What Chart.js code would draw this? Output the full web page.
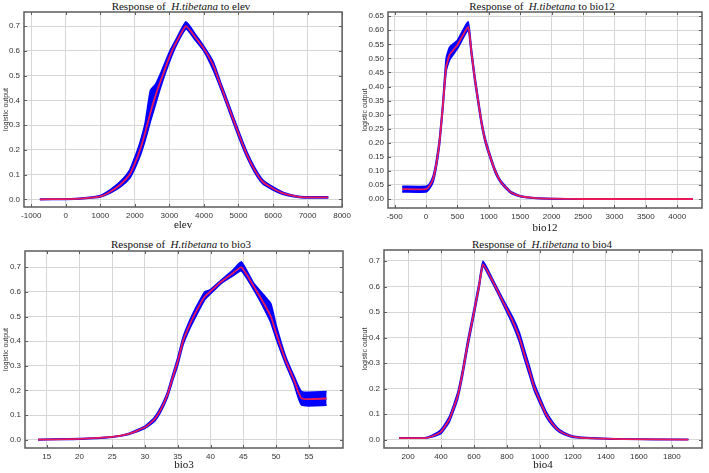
<!DOCTYPE html>
<html lang="en">
<head>
<meta charset="UTF-8">
<title>Response curves of H.tibetana</title>
<script src="https://cdn.jsdelivr.net/npm/chart.js"></script>
<style>
  html, body { margin: 0; padding: 0; background: #fff; width: 709px; height: 473px; overflow: hidden; }
  .panel { position: absolute; }
  .ttl { position: absolute; width: 320px; text-align: center; white-space: nowrap;
         font-family: "Liberation Serif", "DejaVu Serif", serif; font-size: 11px; line-height: 12px; color: #111; }
</style>
</head>
<body>

<div class="ttl" style="left:21px; top:0px">Response of&nbsp; <i>H.tibetana</i> to elev</div>
<div class="ttl" style="left:382px; top:0px">Response of&nbsp; <i>H.tibetana</i> to bio12</div>
<div class="ttl" style="left:21px; top:238px">Response of&nbsp; <i>H.tibetana</i> to bio3</div>
<div class="ttl" style="left:382px; top:238px">Response of&nbsp; <i>H.tibetana</i> to bio4</div>

<div class="panel" style="left:0px; top:0px; width:355px; height:237px"><canvas id="elevChart"></canvas></div>
<div class="panel" style="left:355px; top:0px; width:359px; height:238px"><canvas id="bio12Chart"></canvas></div>
<div class="panel" style="left:0px; top:237px; width:355px; height:235px"><canvas id="bio3Chart"></canvas></div>
<div class="panel" style="left:355px; top:237px; width:359px; height:235px"><canvas id="bio4Chart"></canvas></div>

<script>
// elev response (mean and the blue band around it)
const elevX    = [-750, 0, 500, 1000, 1300, 1600, 1850, 2000, 2150, 2300, 2450, 2600, 2750, 3000, 3200, 3480, 3750, 4000, 4270, 4500, 4750, 5000, 5230, 5470, 5700, 6000, 6300, 6700, 6900, 7600];
const elevMean = [0.000, 0.001, 0.004, 0.012, 0.032, 0.062, 0.100, 0.145, 0.200, 0.270, 0.350, 0.420, 0.480, 0.575, 0.635, 0.700, 0.655, 0.608, 0.541, 0.454, 0.360, 0.266, 0.185, 0.118, 0.071, 0.044, 0.024, 0.011, 0.008, 0.008];
const elevHigh = [0.000, 0.001, 0.005, 0.015, 0.040, 0.075, 0.118, 0.170, 0.230, 0.310, 0.440, 0.465, 0.510, 0.595, 0.648, 0.717, 0.667, 0.618, 0.556, 0.466, 0.372, 0.278, 0.196, 0.128, 0.079, 0.050, 0.028, 0.013, 0.010, 0.010];
const elevLow  = [0.000, 0.000, 0.003, 0.010, 0.026, 0.052, 0.085, 0.125, 0.175, 0.240, 0.315, 0.385, 0.455, 0.555, 0.622, 0.688, 0.643, 0.598, 0.522, 0.442, 0.348, 0.254, 0.174, 0.108, 0.063, 0.038, 0.020, 0.009, 0.006, 0.006];

// bio12
const bio12X    = [-380, 0, 50, 110, 160, 215, 265, 320, 375, 500, 670, 720, 775, 830, 880, 935, 1000, 1100, 1200, 1360, 1520, 1750, 2000, 2500, 4250];
const bio12Mean = [0.035, 0.035, 0.045, 0.070, 0.120, 0.205, 0.325, 0.470, 0.513, 0.548, 0.612, 0.526, 0.430, 0.348, 0.276, 0.215, 0.165, 0.100, 0.058, 0.022, 0.009, 0.003, 0.001, 0.000, 0.000];
const bio12High = [0.045, 0.045, 0.053, 0.080, 0.132, 0.218, 0.338, 0.500, 0.540, 0.565, 0.630, 0.538, 0.441, 0.358, 0.285, 0.223, 0.172, 0.106, 0.062, 0.025, 0.011, 0.004, 0.002, 0.000, 0.000];
const bio12Low  = [0.025, 0.025, 0.035, 0.060, 0.108, 0.192, 0.312, 0.455, 0.495, 0.535, 0.600, 0.514, 0.419, 0.338, 0.267, 0.207, 0.158, 0.094, 0.054, 0.019, 0.007, 0.002, 0.000, 0.000, 0.000];

// bio3
const bio3X    = [13.7, 20, 25, 27.5, 30, 31.4, 32.4, 33.4, 34.2, 35, 35.8, 36.8, 37.8, 39.1, 39.9, 41.6, 43.4, 44.7, 46.6, 48.2, 49.2, 50, 51.4, 52.7, 53.9, 57.7];
const bio3Mean = [0.000, 0.003, 0.011, 0.023, 0.050, 0.081, 0.122, 0.180, 0.250, 0.318, 0.400, 0.466, 0.520, 0.580, 0.600, 0.641, 0.676, 0.700, 0.622, 0.550, 0.500, 0.433, 0.325, 0.244, 0.167, 0.167];
const bio3High = [0.000, 0.004, 0.012, 0.025, 0.055, 0.089, 0.131, 0.190, 0.262, 0.333, 0.415, 0.482, 0.538, 0.600, 0.608, 0.647, 0.688, 0.722, 0.634, 0.585, 0.552, 0.465, 0.342, 0.260, 0.195, 0.195];
const bio3Low  = [0.000, 0.002, 0.010, 0.021, 0.046, 0.073, 0.113, 0.170, 0.238, 0.303, 0.385, 0.450, 0.503, 0.568, 0.590, 0.634, 0.665, 0.685, 0.608, 0.530, 0.475, 0.410, 0.310, 0.228, 0.140, 0.140];

// bio4
const bio4X    = [145, 300, 350, 400, 450, 500, 530, 560, 600, 630, 655, 712, 773, 834, 875, 905, 936, 966, 1000, 1037, 1078, 1118, 1179, 1240, 1380, 1500, 1900];
const bio4Mean = [0.007, 0.007, 0.015, 0.032, 0.080, 0.170, 0.260, 0.370, 0.500, 0.600, 0.687, 0.622, 0.544, 0.466, 0.400, 0.335, 0.270, 0.205, 0.153, 0.100, 0.061, 0.035, 0.016, 0.009, 0.005, 0.003, 0.001];
const bio4High = [0.007, 0.008, 0.019, 0.040, 0.090, 0.182, 0.273, 0.383, 0.512, 0.612, 0.699, 0.630, 0.554, 0.481, 0.420, 0.355, 0.288, 0.220, 0.165, 0.110, 0.069, 0.040, 0.019, 0.011, 0.006, 0.003, 0.001];
const bio4Low  = [0.007, 0.006, 0.012, 0.025, 0.070, 0.158, 0.247, 0.357, 0.488, 0.590, 0.678, 0.614, 0.535, 0.452, 0.384, 0.318, 0.254, 0.192, 0.142, 0.091, 0.054, 0.030, 0.013, 0.007, 0.004, 0.002, 0.001];

// tick values
const elevXTicks  = [-1000, 0, 1000, 2000, 3000, 4000, 5000, 6000, 7000, 8000];
const bio12XTicks = [-500, 0, 500, 1000, 1500, 2000, 2500, 3000, 3500, 4000];
const bio3XTicks  = [15, 20, 25, 30, 35, 40, 45, 50, 55];
const bio4XTicks  = [200, 400, 600, 800, 1000, 1200, 1400, 1600, 1800];
const yTicksTenth = [0, 0.1, 0.2, 0.3, 0.4, 0.5, 0.6, 0.7];
const bio12YTicks = [0, 0.05, 0.10, 0.15, 0.20, 0.25, 0.30, 0.35, 0.40, 0.45, 0.50, 0.55, 0.60, 0.65];

const BLUE = '#0000ff';
const RED = '#e8185a';
const TICK_FONT = { family: 'Liberation Sans, Arial, sans-serif', size: 8 };

// box around the plot plus little inward ticks on all four sides
const framePlugin = {
    id: 'frame',
    afterDraw(chart) {
        const { ctx, chartArea: a, scales: { x, y } } = chart;
        ctx.save();
        ctx.strokeStyle = '#5c5c5c';
        ctx.lineWidth = 1;
        ctx.beginPath();
        x.ticks.forEach(t => {
            const px = Math.round(x.getPixelForValue(t.value)) + 0.5;
            ctx.moveTo(px, a.bottom); ctx.lineTo(px, a.bottom - 3);
            ctx.moveTo(px, a.top); ctx.lineTo(px, a.top + 3);
        });
        y.ticks.forEach(t => {
            const py = Math.round(y.getPixelForValue(t.value)) + 0.5;
            ctx.moveTo(a.left, py); ctx.lineTo(a.left + 3, py);
            ctx.moveTo(a.right, py); ctx.lineTo(a.right - 3, py);
        });
        ctx.stroke();
        ctx.lineWidth = 1.5;
        ctx.strokeRect(a.left, a.top, a.right - a.left, a.bottom - a.top);
        ctx.restore();
    }
};

function pts(xs, ys) {
    return xs.map((v, i) => ({ x: v, y: ys[i] }));
}

function makeChart(id, xs, mean, high, low, cfg) {
    new Chart(document.getElementById(id), {
        type: 'line',
        data: {
            datasets: [
                { data: pts(xs, mean), borderColor: RED, borderWidth: 1.8, pointRadius: 0, fill: false, order: 0 },
                { data: pts(xs, high), borderColor: BLUE, borderWidth: 1.6, pointRadius: 0, fill: false, order: 1 },
                { data: pts(xs, low), borderColor: BLUE, borderWidth: 1.6, pointRadius: 0, backgroundColor: BLUE, fill: '-1', order: 2 }
            ]
        },
        options: {
            responsive: true,
            maintainAspectRatio: false,
            animation: false,
            layout: { padding: { left: 0, top: cfg.pt, right: 12, bottom: 0 } },
            plugins: { legend: { display: false }, tooltip: { enabled: false } },
            elements: { line: { tension: 0.15 } },
            scales: {
                x: {
                    type: 'linear',
                    min: cfg.xMin, max: cfg.xMax,
                    afterBuildTicks: s => { s.ticks = cfg.xTicks.map(v => ({ value: v })); },
                    afterFit: s => { s.height = cfg.xh; },
                    grid: { color: '#d6d6d6', drawTicks: false },
                    border: { display: false },
                    ticks: { autoSkip: false, maxRotation: 0, padding: 4, color: '#333', font: TICK_FONT,
                             callback: v => String(v) },
                    title: { display: true, text: cfg.xTitle, color: '#111',
                             font: { family: 'Liberation Serif, serif', size: 11, lineHeight: 1.2 },
                             padding: { top: 0, bottom: cfg.xTitlePad } }
                },
                y: {
                    min: cfg.yMin, max: cfg.yMax,
                    afterBuildTicks: s => { s.ticks = cfg.yTicks.map(v => ({ value: v })); },
                    afterFit: s => { s.width = cfg.yw; },
                    grid: { color: '#d6d6d6', drawTicks: false },
                    border: { display: false },
                    ticks: { autoSkip: false, padding: 4, color: '#333', font: TICK_FONT,
                             callback: v => v.toFixed(cfg.yDec) },
                    title: { display: true, text: 'logistic output', color: '#333',
                             font: { family: 'Liberation Sans, Arial, sans-serif', size: 7, lineHeight: 1.2 },
                             padding: { top: cfg.yTitlePad, bottom: 0 } }
                }
            }
        },
        plugins: [framePlugin]
    });
}

makeChart('elevChart', elevX, elevMean, elevHigh, elevLow, {
    pt: 12, xh: 30, yw: 24, xTitlePad: 5, yTitlePad: 2,
    xMin: -1210, xMax: 8000, xTicks: elevXTicks, yMin: -0.031, yMax: 0.757, yTicks: yTicksTenth, yDec: 1, xTitle: 'elev'
});
makeChart('bio12Chart', bio12X, bio12Mean, bio12High, bio12Low, {
    pt: 12, xh: 30, yw: 33, xTitlePad: 3, yTitlePad: 5.5,
    xMin: -606, xMax: 4394, xTicks: bio12XTicks, yMin: -0.032, yMax: 0.665, yTicks: bio12YTicks, yDec: 2, xTitle: 'bio12'
});
makeChart('bio3Chart', bio3X, bio3Mean, bio3High, bio3Low, {
    pt: 14, xh: 24, yw: 25, xTitlePad: 0.5, yTitlePad: 2,
    xMin: 11.7, xMax: 60.2, xTicks: bio3XTicks, yMin: -0.034, yMax: 0.766, yTicks: yTicksTenth, yDec: 1, xTitle: 'bio3'
});
makeChart('bio4Chart', bio4X, bio4Mean, bio4High, bio4Low, {
    pt: 13, xh: 24, yw: 29, xTitlePad: 0.5, yTitlePad: 5.5,
    xMin: 54, xMax: 1983, xTicks: bio4XTicks, yMin: -0.032, yMax: 0.743, yTicks: yTicksTenth, yDec: 1, xTitle: 'bio4'
});
</script>
</body>
</html>
